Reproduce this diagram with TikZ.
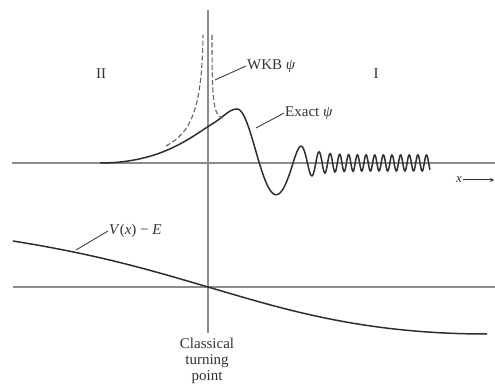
\documentclass[tikz,border=0pt]{standalone}
\usepackage{fontspec}
\setmainfont{Liberation Serif}
\usetikzlibrary{arrows.meta}
\begin{document}
\begin{tikzpicture}[x=1pt,y=-1pt,
  axis/.style={draw=black!45,line width=1.1pt},
  curve/.style={draw=black!82,line width=1.5pt},
  wkbline/.style={draw=black!60,line width=1.1pt,dash pattern=on 5pt off 2.5pt},
  leader/.style={draw=black!75,line width=0.9pt},
  lbl/.style={text=black!80,font=\fontsize{15}{16}\selectfont,inner sep=1pt},
  declare function={sp(\z)=max(\z,0)+ln(1+exp(-abs(\z)));
    ph(\s)=0.022*\s+2.1*sp((\s-76)/10)-2.1*sp(-7.6);
    amp(\s)=8+46*exp(-(\s/50)*(\s/50));}]
\useasboundingbox (0,0) rectangle (495,387);
% axes
\coordinate (axL) at (12,163);
\coordinate (axR) at (495,163);
\coordinate (lowL) at (13,287);
\coordinate (lowR) at (495,287);
\coordinate (vT) at (208,10);
\coordinate (vB) at (208,333);
\draw[axis] (axL) -- (axR);
\draw[axis] (lowL) -- (lowR);
\draw[axis] (vT) -- (vB);
% x arrow
\node[lbl,font=\fontsize{13}{14}\selectfont\itshape] (xlab) at (459,180) {x};
\coordinate (xend) at (494,180);
\draw[draw=black!80,line width=1pt,-{Stealth[length=4pt,width=4pt]}] (xlab.east) -- (xend);
% region labels
\node[lbl] (two) at (101,74) {II};
\node[lbl] (one) at (376,74) {I};
% exact psi
\coordinate (e0) at (100,163);
\coordinate (e1) at (212,124);
\coordinate (epk) at (237,109);
\draw[curve] (e0) .. controls (160,163) and (190,138) .. (e1)
  .. controls (224,117) and (229,109) .. (epk);
\draw[curve] plot[domain=0:193,samples=700,variable=\s]
  ({237+\s},{163-amp(\s)*cos(180*ph(\s))});
% WKB dashed
\coordinate (wl0) at (166,146);
\coordinate (wlT) at (203,35);
\coordinate (wrT) at (212,35);
\coordinate (wr0) at (223,118);
\draw[wkbline] (wl0) .. controls (190,133) and (202,112) .. (wlT);
\draw[wkbline] (wrT) .. controls (212,100) and (213,116) .. (wr0);
% labels with leaders
\node[lbl,anchor=west] (wkb) at (246,66) {WKB \textit{ψ}};
\coordinate (wkbp) at (215,80);
\draw[leader] (wkbp) -- (wkb.west);
\node[lbl,anchor=west] (exact) at (284,113) {Exact \textit{ψ}};
\coordinate (exp) at (256,128);
\draw[leader] (exp) -- (exact.west);
% potential
\coordinate (v0) at (13,241);
\coordinate (vt) at (208,287);
\coordinate (v1) at (487,334);
\draw[curve] (v0) .. controls (100,255) and (150,270) .. (vt)
  .. controls (280,308) and (360,334) .. (v1);
\node[lbl,anchor=west] (vlab) at (108,231) {\textit{V}(\textit{x}) − \textit{E}};
\coordinate (vp) at (76,250);
\draw[leader] (vp) -- (vlab.west);
% turning point
\node[lbl,align=center,anchor=north] (tp) at (207,337) {Classical\\turning\\point};
\end{tikzpicture}
\end{document}
